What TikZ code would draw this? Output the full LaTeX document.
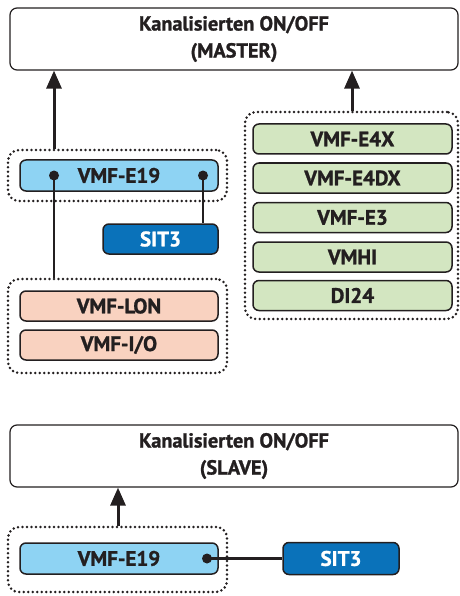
\documentclass[tikz,border=0pt]{standalone}
\usepackage{fontspec}
\setmainfont{PT Sans}[BoldFont={PT Sans Bold},BoldFeatures={FakeBold=1.2}]
\usetikzlibrary{arrows.meta}
\definecolor{lblue}{HTML}{8ED3F3}
\definecolor{dblue}{HTML}{0A72BA}
\definecolor{lgreen}{HTML}{D3E6C1}
\definecolor{salmon}{HTML}{F9D2C0}
\definecolor{edge}{HTML}{231F20}
\newcommand{\lowr}[1]{\raisebox{-3.5pt}{#1}}
\begin{document}
\begin{tikzpicture}[x=1pt,y=-1pt,
  unit/.style={draw=edge,line width=1.5pt,rounded corners=6pt,font=\bfseries\fontsize{21}{21}\selectfont,text=edge},
  topbox/.style={draw=edge,line width=1.2pt,rounded corners=7pt,fill=white,font=\bfseries\fontsize{20.3}{27}\selectfont,text=edge,align=center},
  grp/.style={draw=edge,line width=2.8pt,dash pattern=on 0pt off 4.5pt,line cap=round,rounded corners=11pt},
  conn/.style={draw=edge,line width=2.8pt},
  arr/.style={draw=edge,line width=3pt,-{Triangle[length=18pt,width=15pt]}},
  dotc/.style={circle,fill=edge,inner sep=0pt,minimum size=10pt}
]
\useasboundingbox (0,0) rectangle (459,596);
% MASTER
\node[topbox,minimum width=448pt,minimum height=62pt] (master) at (234,39) {\lowr{Kanalisierten ON/OFF}\\\lowr{(MASTER)}};
% left group
\node[grp,minimum width=219pt,minimum height=51pt] (g1) at (117.5,175.5) {};
\node[unit,fill=lblue,minimum width=198pt,minimum height=31pt] (e19) at (119,175.5) {VMF-E19};
\node[dotc] (d1) at (54,175.5) {};
\node[dotc] (d2) at (203,175.5) {};
\node[unit,fill=dblue,text=white,minimum width=115pt,minimum height=30pt] (sit) at (160.5,239) {SIT3};
% lower left group
\node[grp,minimum width=219pt,minimum height=94pt] (g2) at (117.5,326) {};
\node[unit,fill=salmon,minimum width=198pt,minimum height=30pt] (lon) at (119,306) {VMF-LON};
\node[unit,fill=salmon,minimum width=198pt,minimum height=30pt] (io) at (119,345) {VMF-I/O};
% right group
\node[grp,minimum width=213pt,minimum height=207pt] (g3) at (351.5,215.5) {};
\node[unit,fill=lgreen,minimum width=199pt,minimum height=30pt] (g4x) at (352.5,139) {VMF-E4X};
\node[unit,fill=lgreen,minimum width=199pt,minimum height=30pt] (g4dx) at (352.5,178) {VMF-E4DX};
\node[unit,fill=lgreen,minimum width=199pt,minimum height=30pt] (ge3) at (352.5,217.5) {VMF-E3};
\node[unit,fill=lgreen,minimum width=199pt,minimum height=30pt] (gvm) at (352.5,257) {VMHI};
\node[unit,fill=lgreen,minimum width=199pt,minimum height=30pt] (gdi) at (352.5,295.5) {DI24};
% connectors
\draw[arr] (g1.north -| d1) -- (master.south -| d1);
\draw[arr] (g3.north -| 352,0) -- (master.south -| 352,0);
\draw[conn] (d1.center) -- (g2.north -| d1);
\draw[conn] (d2.center) -- (sit.north -| d2);
% SLAVE
\node[topbox,minimum width=448pt,minimum height=62pt] (slave) at (234,456) {\lowr{Kanalisierten ON/OFF}\\\lowr{(SLAVE)}};
\node[grp,minimum width=219pt,minimum height=65pt] (g4) at (117.5,559.5) {};
\node[unit,fill=lblue,minimum width=198pt,minimum height=31pt] (e19b) at (119,558.5) {VMF-E19};
\node[dotc] (d3) at (207,558.5) {};
\node[unit,fill=dblue,text=white,minimum width=116pt,minimum height=32pt] (sitb) at (341,558.5) {SIT3};
\draw[arr] (g4.north -| 118,0) -- (slave.south -| 118,0);
\draw[conn] (d3.center) -- (sitb.west);
\end{tikzpicture}
\end{document}
